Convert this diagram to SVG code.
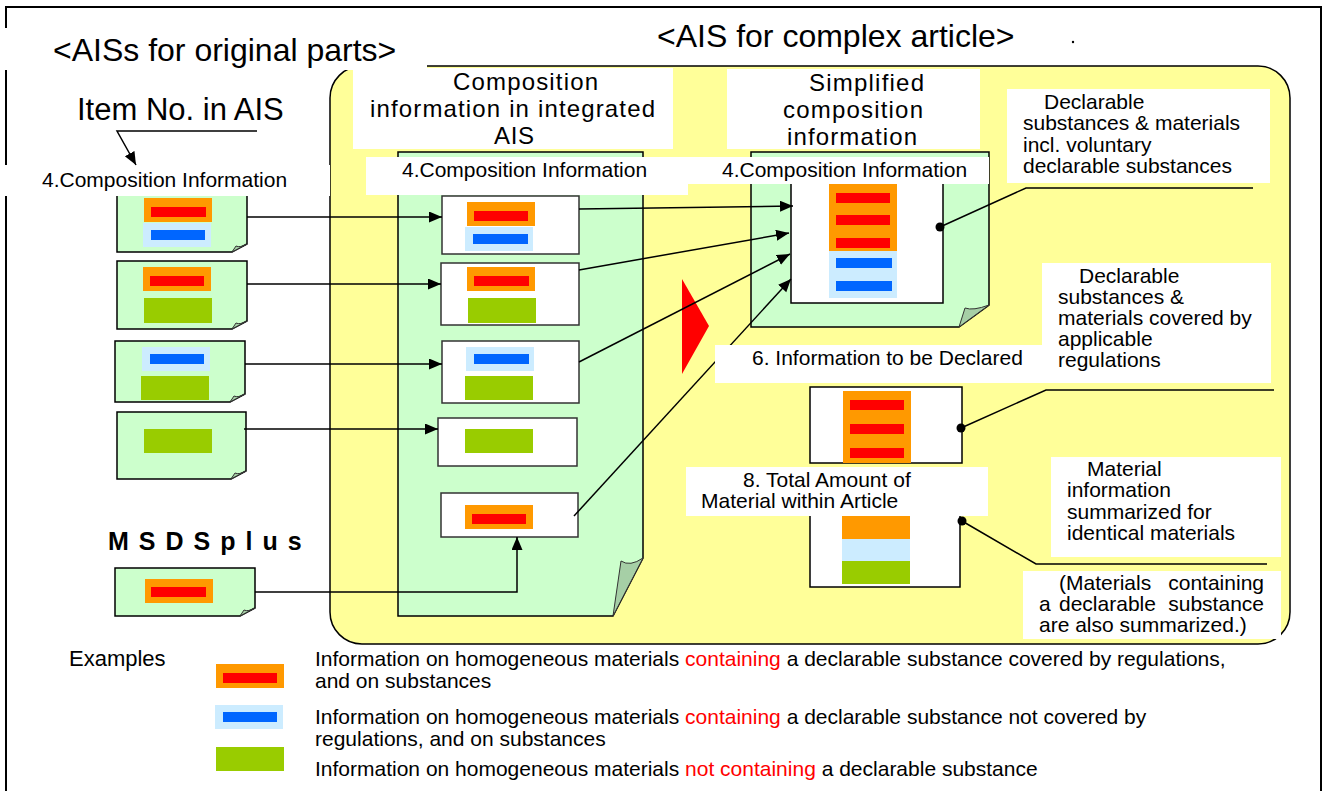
<svg xmlns="http://www.w3.org/2000/svg" width="1325" height="791" viewBox="0 0 1325 791">
<style>
.t{font-family:"Liberation Sans",Arial,sans-serif;fill:#000}
.f21{font-size:21px}.f22{font-size:22px}.f24{font-size:24px}.f31{font-size:31px}.f32{font-size:32px}
.red{fill:#FF0000}
.doc{fill:#CCFFCC;stroke:#000;stroke-width:1.5}
.fold{fill:#A6CFA6;stroke:#333;stroke-width:1}
.lbl{fill:#fff}
.box{fill:#fff;stroke:#333;stroke-width:1.5}
.or{fill:#FF9900}.rd{fill:#FF0000}.lb{fill:#CCECFF}.bl{fill:#0066FF}.gr{fill:#99CC00}
.ln{stroke:#000;stroke-width:1.5;fill:none}
</style>
<defs>
<marker id="ah" markerUnits="userSpaceOnUse" markerWidth="14" markerHeight="12" refX="13" refY="5.5" orient="auto">
<path d="M0,0 L13,5.5 L0,11 z" fill="#000"/>
</marker>
</defs>
<rect x="6" y="7" width="1315" height="800" fill="#fff" stroke="#000" stroke-width="2"/>
<g id="panel"><rect x="330" y="66" width="960" height="578" rx="32" fill="#FFFF99" stroke="#000" stroke-width="1.5"/></g>
<g id="title-left"><rect class="lbl" x="0" y="28" width="427" height="42"/><text class="t f32" x="53" y="61">&lt;AISs for original parts&gt;</text></g>
<g id="title-right"><text class="t f32" x="657" y="47">&lt;AIS for complex article&gt;</text><circle cx="1073" cy="42" r="1.2" fill="#000"/></g>
<g id="item-no"><text class="t f31" x="77" y="120">Item No. in AIS</text></g>
<g id="doc1"><polygon class="doc" points="117,180 247,180 247,244 232,252 117,252"/><path class="fold" d="M232,252 L236,246 Q240,248 247,244 Z"/>
<rect class="or" x="144" y="198" width="68" height="24"/><rect class="rd" x="151" y="207" width="55" height="10"/><rect class="lb" x="143" y="223" width="68" height="24"/><rect class="bl" x="151" y="230" width="54" height="10"/></g>
<g id="label-left"><rect class="lbl" x="0" y="165" width="330" height="31"/><text class="t f21" x="42" y="187">4.Composition Information</text></g>
<g id="doc2"><polygon class="doc" points="117,261 247,261 247,321 232,329 117,329"/><path class="fold" d="M232,329 L236,323 Q240,325 247,321 Z"/>
<rect class="or" x="143" y="267" width="68" height="24"/><rect class="rd" x="150" y="276" width="54" height="10"/><rect class="gr" x="144" y="298" width="68" height="25"/></g>
<g id="doc3"><polygon class="doc" points="115,341 245,341 245,394 230,402 115,402"/><path class="fold" d="M230,402 L234,396 Q238,398 245,394 Z"/>
<rect class="lb" x="142" y="347" width="68" height="24"/><rect class="bl" x="150" y="354" width="54" height="10"/><rect class="gr" x="141" y="376" width="68" height="24"/></g>
<g id="doc4"><polygon class="doc" points="117,412 246,412 246,471 231,479 117,479"/><path class="fold" d="M231,479 L235,473 Q239,475 246,471 Z"/>
<rect class="gr" x="144" y="429" width="68" height="24"/></g>
<g id="msds"><text class="t" x="108" y="550" style="font-size:25px;font-weight:bold;letter-spacing:10px">MSDSplus</text></g>
<g id="doc5"><polygon class="doc" points="115,568 255,568 255,608 240,616 115,616"/><path class="fold" d="M240,616 L244,610 Q248,612 255,608 Z"/>
<rect class="or" x="145" y="579" width="68" height="24"/><rect class="rd" x="151" y="587" width="55" height="10"/></g>
<g id="doc-integrated"><polygon class="doc" points="398,152 643,152 643,558 613,616 398,616"/><path class="fold" d="M613,616 L621,561 Q630,567 643,558 Z"/></g>
<g id="box-a"><rect class="box" x="442" y="196" width="137" height="58"/><rect class="or" x="467" y="202" width="68" height="24"/><rect class="rd" x="474" y="211" width="54" height="10"/><rect class="lb" x="465" y="227" width="68" height="24"/><rect class="bl" x="473" y="234" width="55" height="10"/></g>
<g id="box-b"><rect class="box" x="441" y="263" width="138" height="62"/><rect class="or" x="467" y="267" width="68" height="24"/><rect class="rd" x="474" y="276" width="55" height="10"/><rect class="gr" x="468" y="298" width="68" height="25"/></g>
<g id="box-c"><rect class="box" x="442" y="341" width="137" height="62"/><rect class="lb" x="466" y="347" width="68" height="24"/><rect class="bl" x="474" y="354" width="55" height="10"/><rect class="gr" x="465" y="376" width="68" height="24"/></g>
<g id="box-d"><rect class="box" x="438" y="418" width="139" height="48"/><rect class="gr" x="465" y="429" width="68" height="24"/></g>
<g id="box-e"><rect class="box" x="441" y="493" width="137" height="44"/><rect class="or" x="465" y="505" width="68" height="24"/><rect class="rd" x="472" y="514" width="54" height="10"/></g>
<g id="doc-simplified"><polygon class="doc" points="751,152 989,152 989,305 959,327 751,327"/><path class="fold" d="M959,327 L965,308 Q973,311 989,305 Z"/>
<rect x="791" y="175" width="152" height="128" fill="#fff" stroke="#000" stroke-width="1.5"/>
<rect class="or" x="829" y="175" width="68" height="76"/><rect class="rd" x="836" y="193" width="54" height="10"/><rect class="rd" x="836" y="215" width="54" height="10"/><rect class="rd" x="836" y="238" width="54" height="10"/>
<rect class="lb" x="829" y="251" width="68" height="47"/><rect class="bl" x="836" y="258" width="56" height="10"/><rect class="bl" x="836" y="281" width="56" height="10"/></g>
<g id="box-declared"><rect x="810" y="387" width="152" height="76" fill="#fff" stroke="#000" stroke-width="1.5"/><rect class="or" x="843" y="391" width="68" height="72"/><rect class="rd" x="850" y="400" width="54" height="10"/><rect class="rd" x="850" y="424" width="54" height="10"/><rect class="rd" x="850" y="448" width="54" height="10"/></g>
<g id="box-total"><rect x="810" y="505" width="150" height="82" fill="#fff" stroke="#000" stroke-width="1.5"/><rect class="or" x="842" y="516" width="68" height="23"/><rect class="lb" x="842" y="539" width="68" height="22"/><rect class="gr" x="842" y="561" width="68" height="23"/></g>
<g id="red-triangle"><polygon points="682,279 709,326 682,374" fill="#FF0000"/></g>
<g id="connectors">
<polyline class="ln" points="257,131 117,131 136,165" marker-end="url(#ah)"/>
<line class="ln" x1="247" y1="217" x2="442" y2="217" marker-end="url(#ah)"/>
<line class="ln" x1="247" y1="284" x2="441" y2="284" marker-end="url(#ah)"/>
<line class="ln" x1="245" y1="364" x2="442" y2="364" marker-end="url(#ah)"/>
<line class="ln" x1="244" y1="429" x2="438" y2="429" marker-end="url(#ah)"/>
<polyline class="ln" points="255,592 517,592 517,537" marker-end="url(#ah)"/>
<line class="ln" x1="579" y1="209" x2="793" y2="206" marker-end="url(#ah)"/>
<line class="ln" x1="579" y1="270" x2="789" y2="233" marker-end="url(#ah)"/>
<line class="ln" x1="579" y1="362" x2="790" y2="254" marker-end="url(#ah)"/>
<line class="ln" x1="574" y1="516" x2="791" y2="279" marker-end="url(#ah)"/>
<polyline class="ln" points="940,227 1026,188 1253,188"/><circle cx="940" cy="227" r="4.5" fill="#000"/>
<polyline class="ln" points="961,428 1046,390 1274,390"/><circle cx="961" cy="428" r="4.5" fill="#000"/>
<polyline class="ln" points="962,521 1036,564 1267,564"/><circle cx="962" cy="521" r="4.5" fill="#000"/>
</g>
<g id="label-integrated"><rect class="lbl" x="353" y="68" width="320" height="81"/>
<text class="t f24" x="453" y="90" textLength="145" lengthAdjust="spacing">Composition</text><text class="t f24" x="370" y="117" textLength="285" lengthAdjust="spacing">information in integrated</text><text class="t f24" x="494" y="144" textLength="40" lengthAdjust="spacing">AIS</text></g>
<g id="label-comp-center"><rect class="lbl" x="366" y="157" width="322" height="38"/><text class="t f21" x="402" y="177">4.Composition Information</text></g>
<g id="label-simplified"><rect class="lbl" x="727" y="69" width="253" height="80"/>
<text class="t f24" x="809" y="91" textLength="115" lengthAdjust="spacing">Simplified</text><text class="t f24" x="783" y="118" textLength="140" lengthAdjust="spacing">composition</text><text class="t f24" x="787" y="145" textLength="130" lengthAdjust="spacing">information</text></g>
<g id="label-comp-right"><rect class="lbl" x="688" y="157" width="301" height="27"/><text class="t f21" x="722" y="177">4.Composition Information</text></g>
<g id="label-declarable1"><rect class="lbl" x="1007" y="89" width="263" height="94"/>
<text class="t f21" x="1044" y="109">Declarable</text><text class="t f21" x="1023" y="130">substances &amp; materials</text><text class="t f21" x="1023" y="152">incl. voluntary</text><text class="t f21" x="1023" y="173">declarable substances</text></g>
<g id="label-declarable2"><rect class="lbl" x="1042" y="263" width="229" height="120"/>
<text class="t f21" x="1079" y="283">Declarable</text><text class="t f21" x="1058" y="304">substances &amp;</text><text class="t f21" x="1058" y="325">materials covered by</text><text class="t f21" x="1058" y="346">applicable</text><text class="t f21" x="1058" y="367">regulations</text></g>
<g id="label-info-declared"><rect class="lbl" x="715" y="345" width="327" height="38"/><text class="t f21" x="752" y="365">6. Information to be Declared</text></g>
<g id="label-total"><rect class="lbl" x="686" y="467" width="302" height="49"/><text class="t f21" x="743" y="487">8. Total Amount of</text><text class="t f21" x="701" y="508">Material within Article</text></g>
<g id="label-material"><rect class="lbl" x="1051" y="457" width="230" height="100"/>
<text class="t f21" x="1087" y="476">Material</text><text class="t f21" x="1067" y="497">information</text><text class="t f21" x="1067" y="519">summarized for</text><text class="t f21" x="1067" y="540">identical materials</text></g>
<g id="label-note"><rect class="lbl" x="1023" y="571" width="258" height="68"/>
<text class="t f21" x="1059" y="590">(Materials</text><text class="t f21" x="1264" y="590" text-anchor="end">containing</text>
<text class="t f21" x="1039" y="611">a</text><text class="t f21" x="1059" y="611">declarable</text><text class="t f21" x="1264" y="611" text-anchor="end">substance</text>
<text class="t f21" x="1039" y="632">are also summarized.)</text></g>
<g id="legend">
<text class="t f22" x="69" y="666">Examples</text>
<rect class="or" x="216" y="664" width="68" height="24"/><rect class="rd" x="223" y="673" width="54" height="10"/>
<rect class="lb" x="215" y="705" width="68" height="24"/><rect class="bl" x="223" y="712" width="54" height="10"/>
<rect class="gr" x="216" y="747" width="68" height="24"/>
<text class="t f21" x="315" y="666">Information on homogeneous materials <tspan class="red">containing</tspan> a declarable substance covered by regulations,</text>
<text class="t f21" x="315" y="688">and on substances</text>
<text class="t f21" x="315" y="724">Information on homogeneous materials <tspan class="red">containing</tspan> a declarable substance not covered by</text>
<text class="t f21" x="315" y="746">regulations, and on substances</text>
<text class="t f21" x="315" y="776">Information on homogeneous materials <tspan class="red">not containing</tspan> a declarable substance</text>
</g>
</svg>
